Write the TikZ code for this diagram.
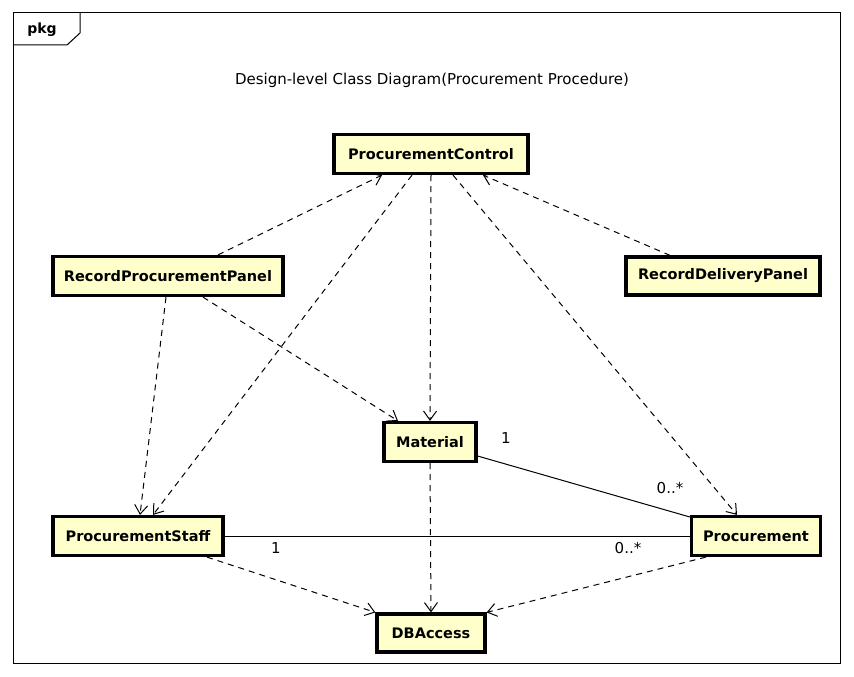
\documentclass[tikz,border=0pt]{standalone}
\usepackage{fontspec}
\setmainfont{DejaVu Sans}
\usetikzlibrary{arrows.meta}
\definecolor{boxfill}{HTML}{FFFFCC}
\begin{document}
\begin{tikzpicture}[x=1pt,y=-1pt,
  cls/.style={draw, line width=3.2pt, fill=boxfill, inner sep=0pt, font=\fontsize{14.5}{16}\selectfont\bfseries},
  dep/.style={line width=1pt, dash pattern=on 6pt off 5pt, -{Straight Barb[length=9pt,width=13pt,line width=1pt]}},
  assoc/.style={line width=1pt},
  lbl/.style={font=\fontsize{15}{17}\selectfont, inner sep=0pt}]
\useasboundingbox (0,0) rectangle (854,677);
% frame
\draw[line width=1pt] (13,13) rectangle (840,663);
\draw[line width=1pt] (13,45) -- (67,45) -- (80,33) -- (80,13);
\node[font=\fontsize{14}{16}\selectfont\bfseries] (pkg) at (42,30) {pkg};
\node[lbl] (title) at (432,80) {Design-level Class Diagram(Procurement Procedure)};
% classes
\node[cls, minimum width=194pt, minimum height=39pt] (pc) at (431,154) {ProcurementControl};
\node[cls, minimum width=230pt, minimum height=39pt] (rpp) at (168,276) {RecordProcurementPanel};
\node[cls, minimum width=194pt, minimum height=38pt] (rdp) at (723,276) {RecordDeliveryPanel};
\node[cls, minimum width=92pt, minimum height=39pt] (mat) at (430,442) {Material};
\node[cls, minimum width=170pt, minimum height=39pt] (ps) at (138,536) {ProcurementStaff};
\node[cls, minimum width=129pt, minimum height=39pt] (proc) at (756,536) {Procurement};
\node[cls, minimum width=108pt, minimum height=38pt] (dba) at (431,633) {DBAccess};
% dependencies
\draw[dep] ([xshift=50pt]rpp.north) -- ([xshift=-49pt]pc.south);
\draw[dep] ([xshift=-53pt]rdp.north) -- ([xshift=52pt]pc.south);
\draw[dep] ([xshift=-19pt]pc.south) -- ([xshift=15pt]ps.north);
\draw[dep] (pc.south) -- (mat.north);
\draw[dep] ([xshift=22pt]pc.south) -- ([xshift=-19pt]proc.north);
\draw[dep] ([xshift=-2pt]rpp.south) -- ([xshift=2pt]ps.north);
\draw[dep] ([xshift=35pt]rpp.south) -- ([xshift=-32pt]mat.north);
\draw[dep] (mat.south) -- (dba.north);
\draw[dep] ([xshift=69pt]ps.south) -- (dba.north west);
\draw[dep] ([xshift=-50pt]proc.south) -- (dba.north east);
% associations
\draw[assoc] ([yshift=-14pt]mat.east) -- ([yshift=19pt]proc.west);
\draw[assoc] (ps.east) -- (proc.west);
\node[lbl] (m1) at (506,438) {1};
\node[lbl] (m2) at (670,488) {0..*};
\node[lbl] (s1) at (276,548) {1};
\node[lbl] (s2) at (628,548) {0..*};
\end{tikzpicture}
\end{document}
